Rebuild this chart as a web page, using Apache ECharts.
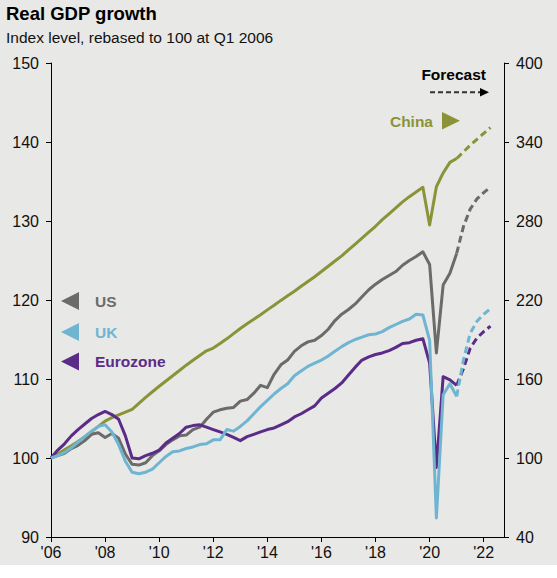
<!DOCTYPE html>
<html>
<head>
<meta charset="utf-8">
<script src="https://cdn.jsdelivr.net/npm/echarts@6/dist/echarts.min.js"></script>
<style>
html,body{margin:0;padding:0;background:#ffffff;}
#bg{position:absolute;left:0;top:0;width:557px;height:565px;background:#e8e8e6;}
#chart{position:absolute;left:0;top:0;width:557px;height:578px;}
</style>
</head>
<body>
<div id="bg"></div>
<div id="chart"></div>
<script>
// ---- data ----
const startYear = 2006;             // Q1 2006 = first point
const xTickLabels = ["'06","'08","'10","'12","'14","'16","'18","'20","'22"];
const usHist = [
  100.0,100.3,100.6,101.2, 101.6,102.2,103.0,103.2, 102.6,103.1,102.5,100.5,
  99.2,99.1,99.4,100.3, 100.9,101.7,102.3,102.8, 102.9,103.6,103.9,104.9,
  105.8,106.1,106.3,106.4, 107.2,107.4,108.2,109.2, 108.9,110.6,111.8,112.4,
  113.5,114.2,114.7,114.9, 115.5,116.3,117.4,118.2, 118.8,119.5,120.4,121.3,
  122.0,122.6,123.1,123.6, 124.4,125.0,125.5,126.1, 124.5,113.3,121.9,123.4,
  125.9
];
const ukHist = [
  100.0,100.3,100.7,101.3, 102.0,102.7,103.4,104.0, 104.2,103.3,101.7,99.6,
  98.2,98.0,98.2,98.6, 99.4,100.2,100.8,100.9, 101.2,101.4,101.7,101.8,
  102.3,102.3,103.6,103.4, 104.0,104.7,105.6,106.5, 107.3,108.1,108.8,109.4,
  110.4,111.0,111.6,112.0, 112.4,112.9,113.5,114.1, 114.6,115.0,115.3,115.6,
  115.7,116.0,116.5,116.9, 117.3,117.6,118.2,118.1, 114.9,92.4,108.0,109.4,
  107.8
];
const ezHist = [
  100.0,101.0,101.8,102.8, 103.6,104.3,105.0,105.5, 105.9,105.5,104.9,102.8,
  100.0,99.9,100.3,100.6, 101.0,101.9,102.5,103.1, 103.9,104.1,104.2,103.9,
  103.6,103.3,103.0,102.6, 102.2,102.7,103.0,103.3, 103.6,103.8,104.2,104.6,
  105.2,105.6,106.1,106.6, 107.6,108.2,108.8,109.5, 110.5,111.5,112.4,112.8,
  113.1,113.3,113.6,114.0, 114.5,114.6,114.9,115.1, 112.0,98.8,110.3,109.9,
  109.2
];
const chinaHist = [
  100.0,103.0,106.2,109.3, 112.6,116.2,120.0,124.0, 128.0,130.6,132.8,134.8,
  137.0,141.5,146.0,150.3, 154.5,158.5,162.5,166.5, 170.5,174.2,177.8,181.4,
  183.5,187.0,190.5,194.5, 198.4,202.0,205.4,208.8, 212.5,216.0,219.7,223.2,
  226.7,230.4,234.1,237.7, 241.6,245.6,249.6,253.5, 258.0,262.5,267.0,271.5,
  276.0,281.0,285.5,290.0, 294.5,298.5,302.0,305.6, 277.0,306.0,316.5,324.5,
  327.5
];
// forecast: Q1 2021 .. Q2 2022
const usFcst    = [125.9,129.3,131.5,132.8,133.6,134.3];
const ukFcst    = [107.8,112.4,115.8,117.3,118.2,118.9];
const ezFcst    = [109.2,111.3,113.9,115.2,116.0,116.7];
const chinaFcst = [327.5,332.5,337.5,342.0,346.5,351.0];

// ---- helpers ----
const fcstStart = ukHist.length - 1;
function pts(arr, offset){ return arr.map((v,i)=>[startYear + (i+offset)/4, v]); }

const C = {us:'#6b6b6b', uk:'#6fb5d2', ez:'#5b2b88', cn:'#8b9339'};
const FONT = '"Liberation Sans", Arial, sans-serif';

function line(name, data, color, yIdx, dashed){
  return {
    name, type:'line', yAxisIndex:yIdx, data, symbol:'none', smooth:false,
    lineStyle:{color, width:3, type: dashed ? [7,4] : 'solid', cap:'butt', join:'round'},
    itemStyle:{color}, silent:true, animation:false
  };
}

const chart = echarts.init(document.getElementById('chart'), null, {renderer:'svg'});
const axisLabel = {fontSize:16, color:'#111', fontFamily:FONT};
chart.setOption({
  backgroundColor:'transparent',
  animation:false,
  title:{
    text:'Real GDP growth', subtext:'Index level, rebased to 100 at Q1 2006',
    left:6, top:4, padding:0, itemGap:6,
    textStyle:{fontSize:18.5, fontWeight:'bold', color:'#000', fontFamily:FONT},
    subtextStyle:{fontSize:15.5, color:'#111', fontFamily:FONT}
  },
  grid:{left:51, right:53, top:63, bottom:41, containLabel:false},
  xAxis:{
    type:'value', min:2006, max:2022.75, interval:2,
    axisLine:{show:true, onZero:false, lineStyle:{color:'#000', width:1}},
    axisTick:{show:true, length:5, lineStyle:{color:'#000'}},
    splitLine:{show:false},
    axisLabel:Object.assign({margin:7, showMaxLabel:false, formatter:(v)=>{
      const idx = (v - 2006)/2;
      return Number.isInteger(idx) && xTickLabels[idx] ? xTickLabels[idx] : '';
    }}, axisLabel)
  },
  yAxis:[
    {type:'value', position:'left', min:90, max:150, interval:10,
     axisLine:{show:true, onZero:false, lineStyle:{color:'#000'}},
     axisTick:{show:true, length:5, lineStyle:{color:'#000'}},
     splitLine:{show:false}, axisLabel:Object.assign({margin:12}, axisLabel)},
    {type:'value', position:'right', min:40, max:400, interval:60,
     axisLine:{show:true, onZero:false, lineStyle:{color:'#000'}},
     axisTick:{show:true, length:5, lineStyle:{color:'#000'}},
     splitLine:{show:false}, axisLabel:Object.assign({margin:12}, axisLabel)}
  ],
  series:[
    line('China', pts(chinaHist,0), C.cn, 1, false),
    line('China forecast', pts(chinaFcst,fcstStart), C.cn, 1, true),
    line('US', pts(usHist,0), C.us, 0, false),
    line('US forecast', pts(usFcst,fcstStart), C.us, 0, true),
    line('Eurozone', pts(ezHist,0), C.ez, 0, false),
    line('Eurozone forecast', pts(ezFcst,fcstStart), C.ez, 0, true),
    line('UK', pts(ukHist,0), C.uk, 0, false),
    line('UK forecast', pts(ukFcst,fcstStart), C.uk, 0, true)
  ],
  graphic:[
    {type:'polygon', shape:{points:[[61,301],[79,292],[79,310]]}, style:{fill:C.us}, silent:true},
    {type:'text', x:95, y:301, style:{text:'US', fill:C.us, font:'bold 15.5px '+FONT, verticalAlign:'middle'}},
    {type:'polygon', shape:{points:[[61,332],[79,323],[79,341]]}, style:{fill:C.uk}, silent:true},
    {type:'text', x:95, y:332, style:{text:'UK', fill:C.uk, font:'bold 15.5px '+FONT, verticalAlign:'middle'}},
    {type:'polygon', shape:{points:[[61,361.5],[79,352.5],[79,370.5]]}, style:{fill:C.ez}, silent:true},
    {type:'text', x:95, y:361.5, style:{text:'Eurozone', fill:C.ez, font:'bold 15.5px '+FONT, verticalAlign:'middle'}},
    {type:'text', x:433, y:121, style:{text:'China', fill:C.cn, font:'bold 15.5px '+FONT, align:'right', verticalAlign:'middle'}},
    {type:'polygon', shape:{points:[[442,112],[442,129.5],[460,120.8]]}, style:{fill:C.cn}, silent:true},
    {type:'text', x:486, y:74, style:{text:'Forecast', fill:'#000', font:'bold 15.5px '+FONT, align:'right', verticalAlign:'middle'}},
    {type:'line', shape:{x1:430, y1:92.3, x2:481, y2:92.3}, style:{stroke:'#333', lineWidth:2, lineDash:[5,3]}, silent:true},
    {type:'polygon', shape:{points:[[480,88],[480,96.6],[489,92.3]]}, style:{fill:'#000'}, silent:true}
  ]
});
</script>
</body>
</html>
